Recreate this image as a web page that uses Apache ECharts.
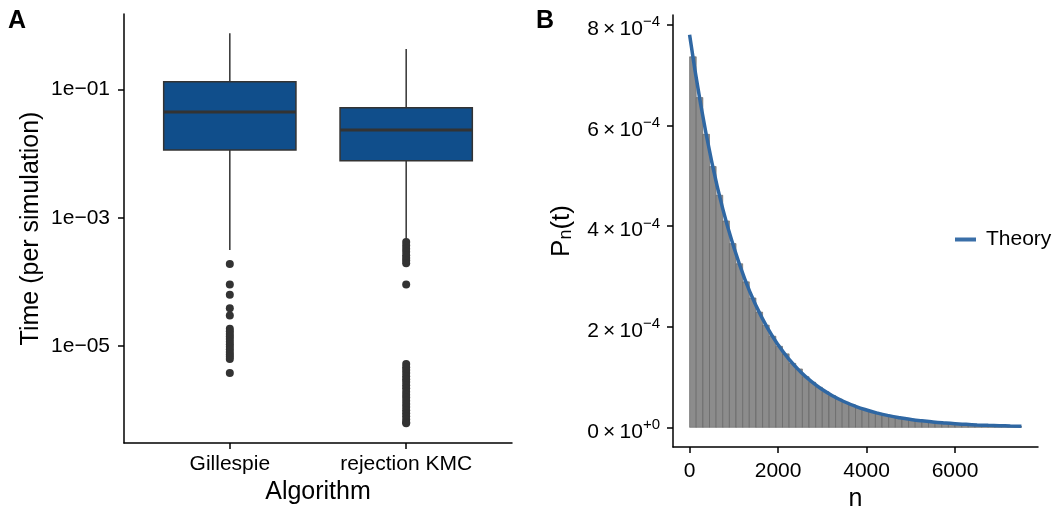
<!DOCTYPE html>
<html><head><meta charset="utf-8">
<script src="https://cdn.jsdelivr.net/npm/echarts@6/dist/echarts.min.js"></script>
<style>html,body{margin:0;padding:0;background:#fff}#c{width:1059px;height:509px}</style>
</head><body><div id="c"></div>
<script>
// ---------- Panel A data ----------
const categories = ['Gillespie', 'rejection KMC'];
const boxMin    = [3.14e-4, 4.68e-4];
const boxQ1     = [1.13e-2, 7.73e-3];
const boxMedian = [4.43e-2, 2.32e-2];
const boxQ3     = [1.31e-1, 5.16e-2];
const boxMax    = [7.45e-1, 4.25e-1];
const outliersGillespie = [1.9e-4, 9.1e-5, 6.3e-5, 3.9e-5, 3.0e-5,
  1.86e-5, 1.7e-5, 1.55e-5, 1.41e-5, 1.29e-5, 1.17e-5, 1.07e-5, 9.8e-6,
  8.9e-6, 8.1e-6, 7.4e-6, 6.8e-6, 6.3e-6, 3.8e-6];
const outliersKMC = [4.2e-4, 3.7e-4, 3.3e-4, 2.95e-4, 2.6e-4, 2.35e-4, 2.15e-4, 1.95e-4,
  9.1e-5,
  5.25e-6, 4.7e-6, 4.25e-6, 3.8e-6, 3.4e-6, 3.05e-6, 2.75e-6, 2.45e-6, 2.2e-6,
  1.95e-6, 1.75e-6, 1.58e-6, 1.41e-6, 1.26e-6, 1.13e-6, 1.0e-6, 9.0e-7, 8.1e-7,
  7.2e-7, 6.5e-7, 6.3e-7];
const yTicksA = [1e-5, 1e-3, 1e-1];

// ---------- Panel B data ----------
const histBinWidth = 150;
const histBinStart = [0,150,300,450,600,750,900,1050,1200,1350,1500,1650,1800,1950,2100,
  2250,2400,2550,2700,2850,3000,3150,3300,3450,3600,3750,3900,4050,4200,4350,4500,4650,
  4800,4950,5100,5250,5400,5550,5700,5850,6000,6150,6300,6450,6600,6750,6900,7050,7200,7350];
const histDensity = [7.36e-4,6.55e-4,5.82e-4,5.18e-4,4.61e-4,4.10e-4,3.65e-4,3.25e-4,2.89e-4,
  2.57e-4,2.29e-4,2.03e-4,1.81e-4,1.61e-4,1.46e-4,1.27e-4,1.16e-4,1.006e-4,8.95e-5,7.96e-5,
  7.08e-5,6.30e-5,5.60e-5,4.98e-5,4.43e-5,3.94e-5,3.51e-5,3.12e-5,2.78e-5,2.47e-5,2.20e-5,
  1.96e-5,1.74e-5,1.55e-5,1.38e-5,1.22e-5,1.09e-5,9.7e-6,8.6e-6,7.7e-6,6.8e-6,6.1e-6,5.4e-6,
  4.8e-6,4.3e-6,3.8e-6,3.4e-6,3.0e-6,2.7e-6,2.4e-6];
const theoryN = [0,250,500,750,1000,1250,1500,1750,2000,2250,2500,2750,3000,3250,3500,3750,
  4000,4250,4500,4750,5000,5250,5500,5750,6000,6250,6500,6750,7000,7250,7500];
const theoryP = [7.80e-4,6.42e-4,5.28e-4,4.34e-4,3.58e-4,2.94e-4,2.42e-4,1.99e-4,1.64e-4,
  1.35e-4,1.11e-4,9.13e-5,7.51e-5,6.18e-5,5.09e-5,4.18e-5,3.44e-5,2.83e-5,2.33e-5,1.92e-5,
  1.58e-5,1.30e-5,1.07e-5,8.8e-6,7.2e-6,6.0e-6,4.9e-6,4.0e-6,3.3e-6,2.7e-6,2.2e-6];
const yTicksB = [0, 2e-4, 4e-4, 6e-4, 8e-4];
const xTicksB = [0, 2000, 4000, 6000];

// ---------- build ----------
const FONT = '"Liberation Sans", Arial, Helvetica, sans-serif';
const L = Math.log10;
const boxData = categories.map((c, i) => [i + 1, L(boxMin[i]), L(boxQ1[i]), L(boxMedian[i]), L(boxQ3[i]), L(boxMax[i])]);
const outlierData = [];
outliersGillespie.forEach(v => outlierData.push([1, L(v)]));
outliersKMC.forEach(v => outlierData.push([2, L(v)]));
const histData = histBinStart.map((s, i) => [s, s + histBinWidth, histDensity[i]]);
const theoryData = theoryN.map((n, i) => [n, theoryP[i]]);

const axisLineStyle = { show: true, onZero: false, lineStyle: { color: '#000', width: 1.5 } };
const tickStyle = { show: true, length: 6, lineStyle: { color: '#000', width: 1.5 } };
const labelBase = { color: '#000', fontSize: 21, fontFamily: FONT };
const TS = '\u2009';

const chart = echarts.init(document.getElementById('c'), null, { renderer: 'canvas' });
chart.setOption({
  animation: false,
  backgroundColor: '#fff',
  textStyle: { fontFamily: FONT },
  grid: [
    { left: 124, top: 14, width: 388, height: 429, outerBoundsMode: 'none', containLabel: false },
    { left: 673, top: 15, width: 365, height: 432, outerBoundsMode: 'none', containLabel: false }
  ],
  legend: {
    data: ['Theory'], left: 950, top: 224, icon: 'rect', itemWidth: 21, itemHeight: 4,
    textStyle: { fontSize: 21, color: '#000', fontFamily: FONT, padding: [0, 0, 0, 5] }
  },
  graphic: [
    { type: 'text', left: 8, top: 9, style: { text: 'A', font: 'bold 25px ' + FONT, fill: '#000' } },
    { type: 'text', left: 536, top: 9, style: { text: 'B', font: 'bold 25px ' + FONT, fill: '#000' } }
  ],
  xAxis: [
    {
      type: 'value', gridIndex: 0, min: 0.4, max: 2.6,
      name: 'Algorithm', nameLocation: 'middle', nameGap: 26,
      nameTextStyle: { fontSize: 25, color: '#000', fontFamily: FONT },
      axisLine: axisLineStyle, axisTick: Object.assign({ customValues: [1, 2] }, tickStyle),
      axisLabel: Object.assign({ customValues: [1, 2], margin: 11, formatter: v => categories[Math.round(v) - 1] }, labelBase),
      splitLine: { show: false }
    },
    {
      type: 'value', gridIndex: 1, min: -375, max: 7875,
      name: 'n', nameLocation: 'middle', nameGap: 38,
      nameTextStyle: { fontSize: 25, color: '#000', fontFamily: FONT },
      axisLine: axisLineStyle, axisTick: Object.assign({ customValues: xTicksB }, tickStyle),
      axisLabel: Object.assign({ customValues: xTicksB, margin: 14, formatter: v => String(v) }, labelBase),
      splitLine: { show: false }
    }
  ],
  yAxis: [
    {
      type: 'value', gridIndex: 0, min: -6.509, max: 0.173,
      name: 'Time (per simulation)', nameLocation: 'middle', nameGap: 80,
      nameTextStyle: { fontSize: 25, color: '#000', fontFamily: FONT },
      axisLine: axisLineStyle, axisTick: Object.assign({ customValues: yTicksA.map(L) }, tickStyle),
      axisLabel: Object.assign({ customValues: yTicksA.map(L), margin: 14,
        formatter: v => '1e\u2212' + String(-Math.round(v)).padStart(2, '0') }, labelBase),
      splitLine: { show: false }
    },
    {
      type: 'value', gridIndex: 1, min: -0.39e-4, max: 8.19e-4,
      name: '{a|P}{b|n}{a|(t)}', nameLocation: 'middle', nameGap: 98,
      nameTextStyle: { color: '#000', fontFamily: FONT,
        rich: { a: { fontSize: 26, lineHeight: 26, verticalAlign: 'top', fontFamily: FONT, color: '#000' },
                b: { fontSize: 18, lineHeight: 18, verticalAlign: 'bottom', padding: [11, 0, 0, 0], fontFamily: FONT, color: '#000' } } },
      axisLine: axisLineStyle, axisTick: Object.assign({ customValues: yTicksB }, tickStyle),
      axisLabel: Object.assign({ customValues: yTicksB, margin: 13,
        formatter: v => {
          const m = Math.round(v * 1e4);
          return m === 0 ? '{m|0' + TS + '\u00d7' + TS + '10}{s|+0}' : '{m|' + m + TS + '\u00d7' + TS + '10}{s|\u22124}';
        },
        rich: {
          m: { fontSize: 21, lineHeight: 30, verticalAlign: 'bottom', padding: [8, 0, 0, 0], fontFamily: FONT, color: '#000' },
          s: { fontSize: 15, lineHeight: 15, verticalAlign: 'top', padding: [5, 0, 0, 0], fontFamily: FONT, color: '#000' }
        } }, labelBase),
      splitLine: { show: false }
    }
  ],
  series: [
    {
      type: 'custom', name: 'box', xAxisIndex: 0, yAxisIndex: 0,
      encode: { x: 0, y: [1, 2, 3, 4, 5] },
      data: boxData,
      renderItem: (params, api) => {
        const x = api.value(0);
        const half = api.size([0.75, 0])[0] / 2;
        const pMin = api.coord([x, api.value(1)]);
        const pQ1 = api.coord([x, api.value(2)]);
        const pMed = api.coord([x, api.value(3)]);
        const pQ3 = api.coord([x, api.value(4)]);
        const pMax = api.coord([x, api.value(5)]);
        const st = { stroke: '#333333', lineWidth: 1.5 };
        return { type: 'group', children: [
          { type: 'line', shape: { x1: pMax[0], y1: pMax[1], x2: pQ3[0], y2: pQ3[1] }, style: st },
          { type: 'line', shape: { x1: pQ1[0], y1: pQ1[1], x2: pMin[0], y2: pMin[1] }, style: st },
          { type: 'rect', shape: { x: pQ3[0] - half, y: pQ3[1], width: 2 * half, height: pQ1[1] - pQ3[1] },
            style: { fill: '#104E8B', stroke: '#333333', lineWidth: 1.5 } },
          { type: 'line', shape: { x1: pMed[0] - half, y1: pMed[1], x2: pMed[0] + half, y2: pMed[1] },
            style: { stroke: '#333333', lineWidth: 3 } }
        ] };
      },
      z: 2
    },
    {
      type: 'scatter', name: 'outliers', xAxisIndex: 0, yAxisIndex: 0,
      data: outlierData, symbolSize: 8, itemStyle: { color: '#333333', opacity: 1 }, z: 3
    },
    {
      type: 'custom', name: 'hist', xAxisIndex: 1, yAxisIndex: 1,
      encode: { x: [0, 1], y: 2 },
      data: histData,
      renderItem: (params, api) => {
        const p0 = api.coord([api.value(0), api.value(2)]);
        const p1 = api.coord([api.value(1), 0]);
        return { type: 'rect', shape: { x: p0[0], y: p0[1], width: p1[0] - p0[0], height: p1[1] - p0[1] },
          style: { fill: '#8c8c8c', stroke: '#5e5e5e', lineWidth: 0.6 } };
      },
      z: 2
    },
    {
      type: 'line', name: 'Theory', xAxisIndex: 1, yAxisIndex: 1,
      data: theoryData, smooth: true, showSymbol: false, symbol: 'none',
      lineStyle: { color: '#2f67a3', width: 3.5 }, itemStyle: { color: '#3a6fa8' }, z: 3
    }
  ]
});
</script></body></html>
